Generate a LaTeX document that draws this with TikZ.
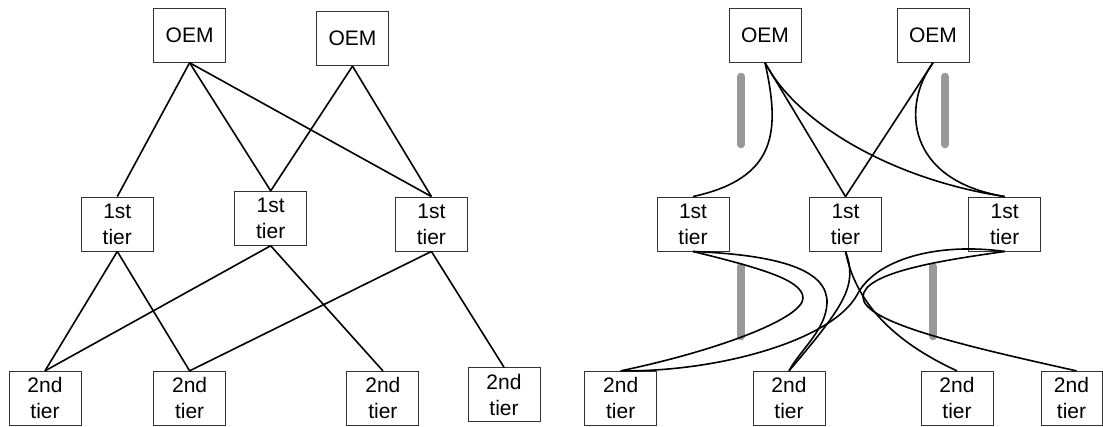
\documentclass[tikz,border=0pt]{standalone}
\usepackage{fontspec}
\setmainfont{Liberation Sans}
\begin{document}
\begin{tikzpicture}[x=1pt,y=-1pt,
  tbox/.style={draw=black!80, line width=0.9pt, minimum width=72pt, minimum height=54pt,
               inner sep=0pt, align=center, font=\fontsize{21}{26}\selectfont},
  link/.style={line width=1.6pt, draw=black},
  graybar/.style={line width=7.5pt, draw=black!40, line cap=round}]
\useasboundingbox (0,0) rectangle (1103,426);

% ---------- left diagram ----------
\node[tbox] (o1) at (189.6,35.3) {OEM};
\node[tbox] (o2) at (352.5,38.7) {OEM};
\node[tbox] (a)  at (117.3,224)  {1st\\tier};
\node[tbox] (b)  at (270.7,218.3) {1st\\tier};
\node[tbox] (c)  at (431.4,224)  {1st\\tier};
\node[tbox] (d1) at (45,398.3)   {2nd\\tier};
\node[tbox] (d2) at (189.6,398.3) {2nd\\tier};
\node[tbox] (d3) at (382.9,398.3) {2nd\\tier};
\node[tbox] (d4) at (504,394.7)  {2nd\\tier};

\draw[link] (o1.south) -- (a.north);
\draw[link] (o1.south) -- (b.north);
\draw[link] (o1.south) -- (c.north);
\draw[link] (o2.south) -- (b.north);
\draw[link] (o2.south) -- (c.north);
\draw[link] (a.south) -- (d1.north);
\draw[link] (a.south) -- (d2.north);
\draw[link] (b.south) -- (d1.north);
\draw[link] (b.south) -- (d3.north);
\draw[link] (c.south) -- (d2.north);
\draw[link] (c.south) -- (d4.north);

% ---------- right diagram ----------
\draw[graybar] (741,76.5) -- (741,144.5);
\draw[graybar] (945,76.5) -- (945,144.5);
\draw[graybar] (741,266.5) -- (741,336.5);
\draw[graybar] (933,266.5) -- (933,336.5);

\node[tbox] (o3) at (765,35.3)   {OEM};
\node[tbox] (o4) at (933,35.3)   {OEM};
\node[tbox] (e)  at (693,224)    {1st\\tier};
\node[tbox] (f)  at (845.5,224)  {1st\\tier};
\node[tbox] (g)  at (1004.7,224) {1st\\tier};
\node[tbox] (h1) at (620.7,398.3) {2nd\\tier};
\node[tbox] (h2) at (789,398.3)  {2nd\\tier};
\node[tbox] (h3) at (957,398.3)  {2nd\\tier};
\node[tbox, minimum width=61pt] (h4) at (1071.5,398.3) {2nd\\tier};

\draw[link] (o3.south) .. controls (780,130) and (778,178) .. (e.north);
\draw[link] (o3.south) -- (f.north);
\draw[link] (o3.south) .. controls (798,125) and (895,180) .. (g.north);
\draw[link] (o4.south) -- (f.north);
\draw[link] (o4.south) .. controls (902,105) and (905,180) .. (g.north);

\draw[link] (e.south) .. controls (760,268) and (803,280) .. (803,298)
                      .. controls (803,318) and (720,350) .. (h1.north);
\draw[link] (e.south) .. controls (780,255) and (828,270) .. (827,303)
                      .. controls (826,330) and (800,350) .. (h2.north);
\draw[link] (f.south) .. controls (858,285) and (845,305) .. (h2.north);
\draw[link] (f.south) .. controls (855,300) and (890,340) .. (h3.north);
\draw[link] (g.south) .. controls (935,242) and (875,260) .. (857,295)
                      .. controls (832,340) and (720,372) .. (h1.north);
\draw[link] (g.south) .. controls (945,260) and (863,272) .. (863,297)
                      .. controls (863,322) and (960,345) .. ([xshift=5pt]h4.north);
\end{tikzpicture}
\end{document}
